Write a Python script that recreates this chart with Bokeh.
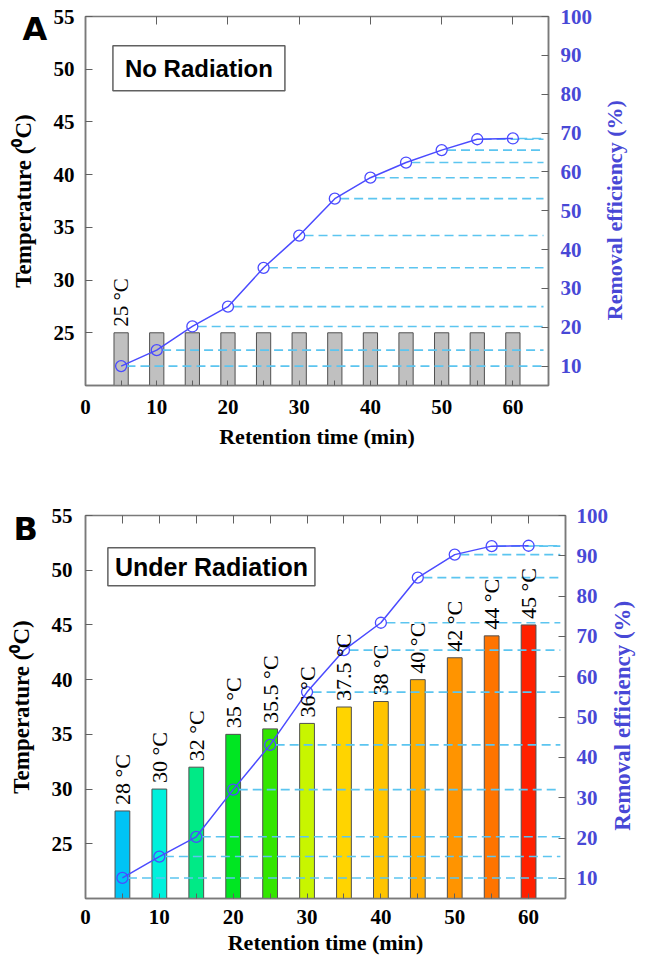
import math
from bokeh.plotting import figure
from bokeh.models import Range1d, LinearAxis, FixedTicker, Label, CustomLabelingPolicy
from bokeh.layouts import column
from bokeh.embed import file_html
from bokeh.resources import INLINE
from bokeh.core.properties import value

# ---------------- data ----------------
time_min = [5, 10, 15, 20, 25, 30, 35, 40, 45, 50, 55, 60]

temp_no_rad = [25, 25, 25, 25, 25, 25, 25, 25, 25, 25, 25, 25]
eff_no_rad = [10.0, 14.1, 20.2, 25.3, 35.3, 43.6, 53.1, 58.5, 62.4, 65.6, 68.4, 68.6]
bar_colors_no_rad = ["#c0c0c0"] * 12
labeled_no_rad = [0]

temp_rad = [28, 30, 32, 35, 35.5, 36, 37.5, 38, 40, 42, 44, 45]
eff_rad = [10.1, 15.4, 20.3, 32.0, 43.1, 56.2, 66.6, 73.4, 84.6, 90.3, 92.4, 92.5]
bar_colors_rad = ["#00c3f5", "#00f0dc", "#00ea86", "#00e622", "#33e600", "#c8f500",
                  "#ffd400", "#ffc400", "#ffae00", "#ff9400", "#ff7400", "#ff2000"]
labeled_rad = list(range(12))

x_label_ticks = [0, 10, 20, 30, 40, 50, 60]
x_minor_ticks = [5, 15, 25, 35, 45, 55]
temp_ticks = [25, 30, 35, 40, 45, 50, 55]
eff_ticks = [10, 20, 30, 40, 50, 60, 70, 80, 90, 100]

x_title = "Retention time (min)"
left_title = "Temperature (\u2070C)"
right_title = "Removal efficiency (%)"

BLUE = "#4b4bff"
BLUE_TXT = "#4848d6"
DASH = "#5cc5f0"
GRAY = "#7a7a7a"
SERIF = "Liberation Serif"


def style_ticks(ax, tin):
    ax.major_tick_in = tin
    ax.major_tick_out = 0
    ax.major_tick_line_color = "#606060"


def make_panel(letter, box_text, temps, effs, colors, labeled, top_ticks, g):
    p = figure(x_range=Range1d(0, 65), y_range=Range1d(20, 55),
               frame_width=g["fw"], frame_height=g["fh"],
               min_border_left=g["bl"], min_border_right=g["br"],
               min_border_top=g["bt"], min_border_bottom=g["bb"],
               x_axis_type=None, y_axis_type=None, title=letter,
               toolbar_location=None, output_backend="svg",
               background_fill_color="white", border_fill_color="white")
    p.outline_line_color = GRAY
    p.outline_line_width = 1.5
    p.extra_y_ranges = {"eff": Range1d(5, 100)}
    fs = g["fs"]

    # panel letter (title pulled down beside the top of the frame)
    p.title.align = "left"
    p.title.offset = g["let_dx"]
    p.title.vertical_align = "bottom"
    p.title.text_font = "DejaVu Sans"
    p.title.text_font_size = "32px"
    p.title.text_font_style = "bold"
    p.title.text_color = "black"
    try:
        p.title.standoff = g["title_std"]
    except Exception:
        pass

    # bottom axis
    bx = LinearAxis(ticker=FixedTicker(ticks=x_label_ticks, minor_ticks=x_minor_ticks),
                    axis_label=x_title)
    style_ticks(bx, 5)
    bx.minor_tick_in = 5
    bx.minor_tick_out = 0
    bx.minor_tick_line_color = "#606060"
    bx.axis_line_color = GRAY
    bx.axis_line_width = 1.5
    bx.major_label_text_font = SERIF
    bx.major_label_text_font_style = "bold"
    bx.major_label_text_font_size = f"{fs}px"
    bx.major_label_text_color = "black"
    bx.major_label_standoff = g["bx_std"]
    bx.axis_label_text_font = SERIF
    bx.axis_label_text_font_style = "bold"
    bx.axis_label_text_font_size = f"{g['ls']}px"
    bx.axis_label_text_color = "black"
    bx.axis_label_standoff = g["bx_lstd"]
    p.add_layout(bx, "below")

    # top axis (ticks only, no labels)
    tx = LinearAxis(ticker=FixedTicker(ticks=top_ticks))
    style_ticks(tx, 8)
    tx.axis_line_color = None
    tx.major_label_text_font_size = "0px"
    tx.major_label_standoff = 0
    tx.major_label_policy = CustomLabelingPolicy(code="return []")
    p.add_layout(tx, "above")

    # left axis
    ly = LinearAxis(ticker=FixedTicker(ticks=temp_ticks), axis_label=left_title)
    style_ticks(ly, 7)
    ly.axis_line_color = GRAY
    ly.axis_line_width = 1.5
    ly.major_label_text_font = SERIF
    ly.major_label_text_font_style = "bold"
    ly.major_label_text_font_size = f"{fs}px"
    ly.major_label_text_color = "black"
    ly.major_label_standoff = g["ly_std"]
    ly.axis_label_text_font = SERIF
    ly.axis_label_text_font_style = "bold"
    ly.axis_label_text_font_size = f"{g['ts']}px"
    ly.axis_label_text_color = "black"
    ly.axis_label_standoff = g["ly_lstd"]
    p.add_layout(ly, "left")

    # right axis (removal efficiency scale)
    ry = LinearAxis(y_range_name="eff", ticker=FixedTicker(ticks=eff_ticks))
    style_ticks(ry, 7)
    ry.axis_line_color = GRAY
    ry.axis_line_width = 1.5
    ry.major_label_text_font = SERIF
    ry.major_label_text_font_style = "bold"
    ry.major_label_text_font_size = f"{fs}px"
    ry.major_label_text_color = BLUE_TXT
    ry.major_label_standoff = g["ry_std"]
    p.add_layout(ry, "right")

    # right-hand title, reading bottom-to-top, as a single rotated label
    rt = LinearAxis(ticker=FixedTicker(ticks=[g["rt_y"]]))
    rt.major_tick_in = 0
    rt.major_tick_out = 0
    rt.axis_line_color = None
    rt.major_label_overrides = {g["rt_y"]: right_title}
    rt.major_label_orientation = math.pi / 2
    rt.major_label_text_font = SERIF
    rt.major_label_text_font_style = "bold"
    rt.major_label_text_font_size = f"{g['rs']}px"
    rt.major_label_text_color = BLUE_TXT
    rt.major_label_standoff = g["rt_std"]
    p.add_layout(rt, "right")

    # bars
    p.vbar(x=time_min, top=temps, bottom=p.y_range.start, width=2.0,
           fill_color=colors, line_color="#505050", line_width=1)

    # dashed guide lines from each point to the right edge
    x_end = p.x_range.end - 0.7
    p.segment(x0=[t + 0.75 for t in time_min], y0=effs,
              x1=[x_end] * len(time_min), y1=effs, y_range_name="eff",
              line_color=DASH, line_width=1.6, line_dash="9 5")

    # removal efficiency
    p.line(time_min, effs, y_range_name="eff", line_color=BLUE, line_width=1.5)
    p.scatter(time_min, effs, y_range_name="eff", size=11, fill_color=None,
              line_color=BLUE, line_width=1.3)

    # bar temperature labels
    p.text(x=[time_min[i] for i in labeled], y=[temps[i] for i in labeled],
           text=[f"{temps[i]:g} °C" for i in labeled],
           angle=math.pi / 2, text_align="left", text_baseline="middle",
           y_offset=-6, text_font=value(SERIF), text_font_size=value(f"{g['bs']}px"),
           text_color="black")

    # boxed condition label
    p.add_layout(Label(x=g["box_x"], y=g["box_y"], text=box_text,
                       text_font="Liberation Sans", text_font_style="bold",
                       text_font_size=f"{g['box_fs']}px", text_align="left",
                       text_baseline="top", text_color="black",
                       border_line_color="#606060", border_line_width=1.5,
                       background_fill_color="white",
                       padding=dict(left=g["pad_x"], right=g["pad_x"],
                                    top=g["pad_y"], bottom=g["pad_y"])))
    return p


geo_a = dict(fw=463, fh=369, bl=85, br=90, bt=16, bb=70, fs=21, ls=22, bs=21, ts=23, rs=22,
             bx_std=14, bx_lstd=7, ly_std=11, ly_lstd=15, ry_std=12,
             rt_y=26.2, rt_std=19,
             let_dx=-63, title_std=-63, box_x=3.85, box_y=52.22,
             box_fs=24, pad_x=12, pad_y=9)
geo_b = dict(fw=480, fh=383, bl=78, br=80, bt=60, bb=63, fs=21, ls=22, bs=22, ts=23, rs=23,
             bx_std=11, bx_lstd=3, ly_std=13, ly_lstd=15, ry_std=11,
             rt_y=26.2, rt_std=11,
             let_dx=-72, title_std=-64, box_x=3.03, box_y=52.06,
             box_fs=25, pad_x=7, pad_y=5)

pa = make_panel("A", "No Radiation", temp_no_rad, eff_no_rad, bar_colors_no_rad,
                labeled_no_rad, [10, 20, 30, 40, 50, 60], geo_a)
pb = make_panel("B", "Under Radiation", temp_rad, eff_rad, bar_colors_rad,
                labeled_rad, [5, 10, 15, 20, 25, 30, 35, 40, 45, 50, 55, 60], geo_b)

layout = column(pa, pb)
open("out.html", "w").write(file_html(layout, INLINE))
